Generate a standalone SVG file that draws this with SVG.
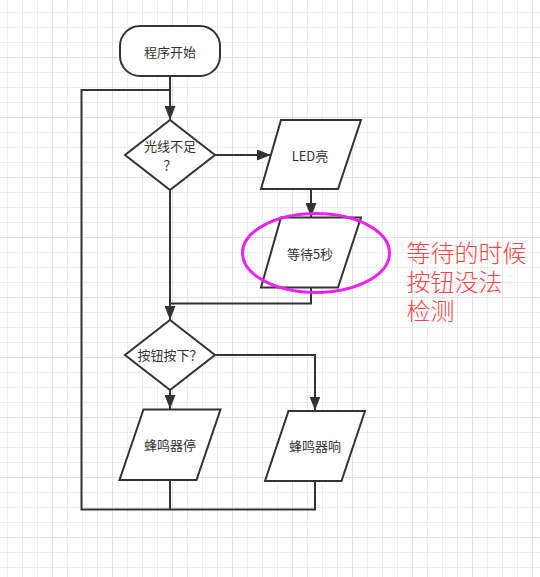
<svg xmlns="http://www.w3.org/2000/svg" width="540" height="577" viewBox="0 0 540 577">
<defs>
<pattern id="gMinor" patternUnits="userSpaceOnUse" x="0" y="0" width="15" height="15">
<path d="M7.5,0 V15 M0,12.5 H15" stroke="#ededed" stroke-width="1" fill="none"/>
</pattern>
<pattern id="gMajor" patternUnits="userSpaceOnUse" x="0" y="0" width="60" height="60">
<path d="M52.5,0 V60 M0,57.5 H60" stroke="#e0e0e0" stroke-width="1" fill="none"/>
</pattern>
<marker id="arr" markerUnits="userSpaceOnUse" markerWidth="14" markerHeight="11" refX="14" refY="5.5" orient="auto">
<path d="M0,0 L14,5.5 L0,11 z" fill="#333"/>
</marker>
<style>
.shape{fill:#fff;stroke:#333;stroke-width:2;stroke-linejoin:miter}
.conn{fill:none;stroke:#333;stroke-width:2}
.lbl{font-family:"Noto Sans CJK SC","Liberation Sans",sans-serif;font-size:13px;fill:#333;text-anchor:middle}
.note{font-family:"Liberation Serif","Noto Sans CJK SC",serif;font-size:24px;font-weight:300;fill:#f44}
</style>
</defs>
<rect width="540" height="577" fill="#fff"/>
<rect width="540" height="577" fill="url(#gMinor)"/>
<rect width="540" height="577" fill="url(#gMajor)"/>

<g id="connectors">
<path class="conn" d="M170,76 V120" marker-end="url(#arr)"/>
<path class="conn" d="M215,155 H271" marker-end="url(#arr)"/>
<path class="conn" d="M311,189 V217" marker-end="url(#arr)"/>
<path class="conn" d="M170,190 V320" marker-end="url(#arr)"/>
<path class="conn" d="M311,288 V303.5 H170"/>
<path class="conn" d="M170,390 V409" marker-end="url(#arr)"/>
<path class="conn" d="M215,355 H315 V410.5" marker-end="url(#arr)"/>
<path class="conn" d="M315,481 V509.5 H81.5 V90 H170"/>
<path class="conn" d="M170,480 V509.5"/>
</g>

<g id="start">
<rect class="shape" x="120" y="26" width="100" height="50" rx="20" ry="20"/>
<text class="lbl" x="170" y="56.5">程序开始</text>
</g>

<g id="light">
<polygon class="shape" points="170,120 215,155 170,190 125,155"/>
<text class="lbl" x="170" y="150.5">光线不足<tspan x="170" dy="19">？</tspan></text>
</g>

<g id="led">
<polygon class="shape" points="281,120 361,120 338,189 261,189"/>
<text class="lbl" x="310" y="161">LED亮</text>
</g>

<g id="wait">
<polygon class="shape" points="281,217.5 361,217.5 338,287.5 261,287.5"/>
<text class="lbl" x="310" y="258.5">等待5秒</text>
</g>

<g id="button">
<polygon class="shape" points="170,320 215,355 170,390 125,355"/>
<text class="lbl" x="170" y="359.5">按钮按下？</text>
</g>

<g id="stop">
<polygon class="shape" points="143.5,409.5 220.5,409.5 196.5,480 119.5,480"/>
<text class="lbl" x="170" y="450">蜂鸣器停</text>
</g>

<g id="ring">
<polygon class="shape" points="288.5,411 365,411 341.5,481 265,481"/>
<text class="lbl" x="315" y="451">蜂鸣器响</text>
</g>

<g id="highlight">
<ellipse cx="316" cy="253" rx="73.5" ry="39.5" fill="none" stroke="#ee22ee" stroke-width="3"/>
</g>

<g id="note">
<text class="note" x="406.5" y="261.5">等待的时候</text>
<text class="note" x="406.5" y="290.5">按钮没法</text>
<text class="note" x="406.5" y="319.5">检测</text>
</g>
</svg>
